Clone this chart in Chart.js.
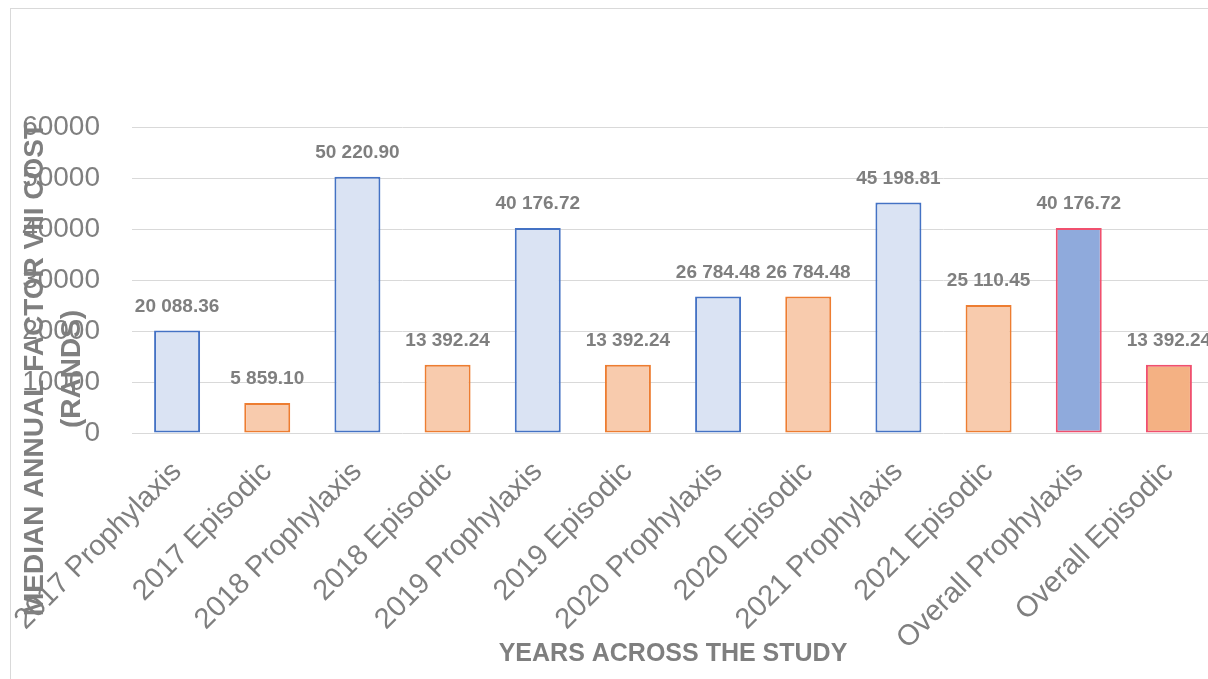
<!DOCTYPE html>
<html>
<head>
<meta charset="utf-8">
<title>Median annual factor VIII cost</title>
<script src="https://cdn.jsdelivr.net/npm/chart.js@4.4.1/dist/chart.umd.min.js"></script>
<style>
  html, body { margin: 0; padding: 0; background: #ffffff; overflow: hidden; }
  #wrap { position: relative; width: 1216px; height: 679px; }
</style>
</head>
<body>
<div id="wrap"><canvas id="chart" width="1216" height="679"></canvas></div>
<script>
// Median annual factor VIII cost per group (rands)
const categories = [
  '2017 Prophylaxis', '2017 Episodic',
  '2018 Prophylaxis', '2018 Episodic',
  '2019 Prophylaxis', '2019 Episodic',
  '2020 Prophylaxis', '2020 Episodic',
  '2021 Prophylaxis', '2021 Episodic',
  'Overall Prophylaxis', 'Overall Episodic'
];
const medianCost = [
  20088.36, 5859.10,
  50220.90, 13392.24,
  40176.72, 13392.24,
  26784.48, 26784.48,
  45198.81, 25110.45,
  40176.72, 13392.24
];
const yMin = 0;
const yMax = 60000;
const yStep = 10000;

const yTitleLines = ['MEDIAN ANNUAL FACTOR VIII COST', '(RANDS)'];
const xTitle = 'YEARS ACROSS THE STUDY';

// Bar styling by regimen
const STYLE = {
  prophylaxis:        { fill: '#dae3f3', line: '#4472c4' },
  episodic:           { fill: '#f8cbad', line: '#ed7d31' },
  overallProphylaxis: { fill: '#8faadc', line: '#f0506e' },
  overallEpisodic:    { fill: '#f4b183', line: '#f0506e' }
};
function styleFor(label) {
  const overall = label.startsWith('Overall');
  const proph = label.includes('Prophylaxis');
  if (overall) return proph ? STYLE.overallProphylaxis : STYLE.overallEpisodic;
  return proph ? STYLE.prophylaxis : STYLE.episodic;
}

const GREY = '#7f7f7f';
const FONT = '"Liberation Sans", Arial, sans-serif';

// "50 220.90" style: space-grouped thousands, two decimals
function formatRand(v) {
  const [intPart, dec] = v.toFixed(2).split('.');
  return intPart.replace(/\B(?=(\d{3})+(?!\d))/g, ' ') + '.' + dec;
}

const frame = {
  id: 'frame',
  beforeDraw(chart) {
    const ctx = chart.ctx;
    ctx.save();
    ctx.strokeStyle = '#d9d9d9';
    ctx.lineWidth = 1;
    ctx.strokeRect(10.5, 8.5, chart.width + 20, chart.height + 20);
    ctx.restore();
  }
};

const valueLabels = {
  id: 'valueLabels',
  afterDatasetsDraw(chart) {
    const ctx = chart.ctx;
    const meta = chart.getDatasetMeta(0);
    ctx.save();
    ctx.font = 'bold 19px ' + FONT;
    ctx.fillStyle = GREY;
    ctx.textAlign = 'center';
    ctx.textBaseline = 'middle';
    meta.data.forEach((bar, i) => {
      ctx.fillText(formatRand(medianCost[i]), bar.x, bar.y - 24);
    });
    ctx.restore();
  }
};

// Vertical axis title, drawn over the tick labels
const yAxisTitle = {
  id: 'yAxisTitle',
  afterDraw(chart) {
    const ctx = chart.ctx;
    ctx.save();
    ctx.font = 'bold 28px ' + FONT;
    ctx.fillStyle = GREY;
    ctx.textAlign = 'center';
    ctx.textBaseline = 'middle';
    const cy = 369;
    const xs = [35, 72];
    yTitleLines.forEach((line, i) => {
      ctx.save();
      ctx.translate(xs[i], cy);
      ctx.rotate(-Math.PI / 2);
      ctx.fillText(line, 0, 0);
      ctx.restore();
    });
    ctx.restore();
  }
};

new Chart(document.getElementById('chart'), {
  type: 'bar',
  data: {
    labels: categories,
    datasets: [{
      data: medianCost,
      backgroundColor: categories.map(c => styleFor(c).fill),
      borderColor: categories.map(c => styleFor(c).line),
      borderWidth: 2,
      borderSkipped: false,
      barPercentage: 0.51,
      categoryPercentage: 1.0
    }]
  },
  options: {
    responsive: false,
    animation: false,
    layout: { padding: { top: 127, right: 2, bottom: 0, left: 0 } },
    plugins: {
      legend: { display: false },
      tooltip: { enabled: false }
    },
    scales: {
      x: {
        grid: { display: false, drawTicks: false },
        border: { display: false },
        ticks: {
          autoSkip: false,
          minRotation: 45,
          maxRotation: 45,
          padding: 22,
          color: GREY,
          font: { family: FONT, size: 29 }
        },
        title: {
          display: true,
          text: xTitle,
          color: GREY,
          font: { family: FONT, size: 25, weight: 'bold' },
          padding: { top: 0, bottom: 10 }
        },
        afterFit(scale) {
          scale.height = 246;
          // rotated labels may run past the plot edges; keep the plot width fixed
          scale.paddingLeft = 0;
          scale.paddingRight = 0;
        }
      },
      y: {
        min: yMin,
        max: yMax,
        grid: { color: '#d9d9d9', lineWidth: 1, drawTicks: false },
        border: { display: false },
        ticks: {
          stepSize: yStep,
          padding: 32,
          color: GREY,
          font: { family: FONT, size: 28 },
          callback: v => String(v)
        },
        afterFit(scale) { scale.width = 132; }
      }
    }
  },
  plugins: [frame, valueLabels, yAxisTitle]
});
</script>
</body>
</html>
